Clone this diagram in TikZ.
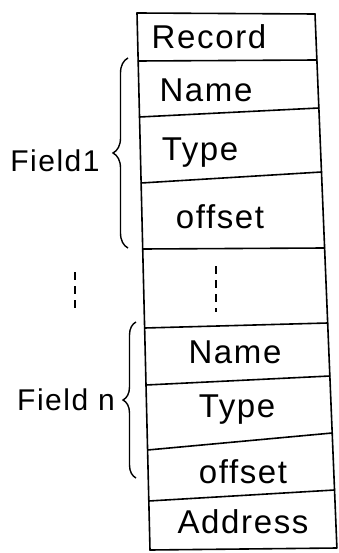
\documentclass[tikz,border=0pt]{standalone}
\usepackage{fontspec}
\setmainfont{Liberation Sans}[LetterSpace=5]
\usetikzlibrary{decorations.pathreplacing}
\begin{document}
\begin{tikzpicture}[x=1pt,y=-1pt,
  rule/.style={line width=1.6pt,line cap=round},
  cell/.style={font=\fontsize{33}{35}\selectfont,inner sep=0pt},
  lbl/.style={font=\fontsize{30}{32}\selectfont,inner sep=0pt},
  brc/.style={line width=1.4pt,decorate,decoration={brace,amplitude=#1}},
  gapdash/.style={line width=1.4pt,dash pattern=on 8pt off 6pt}]
\useasboundingbox[fill=white] (0,0) rectangle (339,553);
% corners of the column
\coordinate (l0) at (137,13);   \coordinate (r0) at (315,14);
\coordinate (l1) at (138.1,61); \coordinate (r1) at (316.9,60);
\coordinate (l2) at (139.5,117);\coordinate (r2) at (318.9,108);
\coordinate (l3) at (141.1,183);\coordinate (r3) at (321.5,172);
\coordinate (l4) at (142.7,249);\coordinate (r4) at (324.6,248);
\coordinate (l5) at (144.6,328);\coordinate (r5) at (327.7,323);
\coordinate (l6) at (146.0,385);\coordinate (r6) at (329.9,376);
\coordinate (l7) at (147.6,450);\coordinate (r7) at (332.2,433);
\coordinate (l8) at (148.8,501);\coordinate (r8) at (334.5,490);
\coordinate (l9) at (150,550);  \coordinate (r9) at (336.9,548);
\draw[rule] (l0) -- (l9);
\draw[rule] (r0) -- (r9);
\foreach \i in {0,...,9} \draw[rule] (l\i) -- (r\i);
% cell texts
\node[cell] (rec) at (209,37) {Record};
\node[cell] (name1) at (206,90) {Name};
\node[cell] (type1) at (200,153) {Type};
\node[cell] (off1) at (220,217) {offset};
\node[cell] (name2) at (235,352) {Name};
\node[cell] (type2) at (237,410) {Type};
\node[cell] (off2) at (243,472) {offset};
\node[cell] (addr) at (243,522) {Address};
% gap dots
\coordinate (g1) at (216,266); \coordinate (g2) at (216,312);
\draw[gapdash] (g1) -- (g2);
\coordinate (h1) at (75,272); \coordinate (h2) at (75,312);
\draw[gapdash] (h1) -- (h2);
% braces and labels
\coordinate (b1a) at (128,248); \coordinate (b1b) at (128,58);
\draw[brc=15pt] (b1a) -- (b1b);
\coordinate (b2a) at (136,478); \coordinate (b2b) at (136,322);
\draw[brc=13pt] (b2a) -- (b2b);
\node[lbl] (f1) at (55,161) {Field1};
\node[lbl] (fn) at (66,400) {Field n};
\end{tikzpicture}
\end{document}
